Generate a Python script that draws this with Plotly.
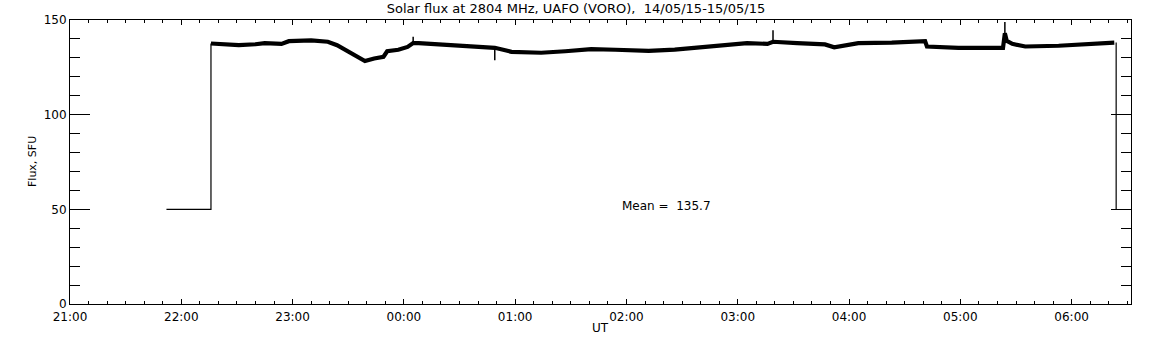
import plotly.graph_objects as go

# --- data ---
# main flux record (UT, SFU)
flux_time = ["22:16", "22:31", "22:40", "22:45", "22:54", "22:58", "23:10", "23:19",
             "23:24", "23:30", "23:35", "23:39", "23:44", "23:49", "23:51", "23:57",
             "00:02", "00:05", "00:08", "00:18", "00:29", "00:40", "00:49", "00:58",
             "01:14", "01:27", "01:41", "01:54", "02:12", "02:26", "02:40", "02:57",
             "03:05", "03:16", "03:19", "03:32", "03:47", "03:52", "04:05", "04:23",
             "04:41", "04:42", "04:59", "05:20", "05:23", "05:24", "05:25", "05:28",
             "05:35", "05:53", "06:11", "06:23"]
flux_value = [137.6, 136.7, 137.2, 137.8, 137.4, 138.8, 139.2, 138.5,
              136.7, 133.5, 130.4, 128.3, 129.7, 130.6, 133.5, 134.3,
              135.8, 137.8, 137.8, 137.2, 136.4, 135.7, 135.3, 133.2,
              132.7, 133.5, 134.6, 134.3, 133.7, 134.4, 135.7, 137.2,
              137.8, 137.4, 138.5, 137.8, 137.1, 135.6, 137.8, 138.1,
              138.8, 136.0, 135.3, 135.3, 135.3, 143.0, 139.0, 137.4,
              136.0, 136.4, 137.4, 138.1]

# short spikes (UT, base, peak)
spike_time = ["00:05", "00:49", "03:19", "05:24"]
spike_base = [137.8, 135.3, 138.5, 143.0]
spike_peak = [141.1, 128.8, 144.6, 149.0]

# start / end of the record where the receiver sat at 50 SFU
start_time = ["21:52", "22:16", "22:16"]
start_value = [50, 50, 137.6]
end_time = ["06:24", "06:24"]
end_value = [138.1, 50]

mean_flux = 135.7
title_text = "Solar flux at 2804 MHz, UAFO (VORO),  14/05/15-15/05/15"


def to_dt(hhmm):
    h = int(hhmm.split(":")[0])
    day = "2015-05-14" if h >= 12 else "2015-05-15"
    return f"{day} {hhmm}:00"


fig = go.Figure()

fig.add_trace(go.Scatter(
    x=[to_dt(t) for t in flux_time], y=flux_value, mode="lines",
    line=dict(color="black", width=4.2), hoverinfo="skip", showlegend=False))

sx, sy = [], []
for t, b, p in zip(spike_time, spike_base, spike_peak):
    sx += [to_dt(t), to_dt(t), None]
    sy += [b, p, None]
fig.add_trace(go.Scatter(x=sx, y=sy, mode="lines",
                         line=dict(color="black", width=1.5), showlegend=False))

fig.add_trace(go.Scatter(
    x=[to_dt(t) for t in start_time] + [None] + [to_dt(t) for t in end_time],
    y=start_value + [None] + end_value, mode="lines",
    line=dict(color="black", width=1.2), showlegend=False))

font = dict(family="DejaVu Sans", size=12, color="black")

fig.update_layout(
    width=1152, height=345,
    margin=dict(l=70, r=21, t=20, b=41),
    paper_bgcolor="white", plot_bgcolor="white",
    font=font,
    title=dict(text=title_text, x=0.5, xanchor="center", y=1 - 8.5 / 345,
               yanchor="middle",
               font=dict(family="DejaVu Sans", size=13, color="black")),
    xaxis=dict(
        type="date",
        range=["2015-05-14 21:00:00", "2015-05-15 06:32:00"],
        dtick=3600000, tick0="2015-05-14 21:00:00", tickformat="%H:%M",
        ticks="inside", ticklen=5, tickcolor="black", tickwidth=1,
        minor=dict(dtick=600000, ticks="inside", ticklen=3, tickcolor="black"),
        showline=True, linecolor="black", linewidth=1, mirror="ticks",
        showgrid=False, zeroline=False, tickfont=font, ticklabelstandoff=2,
    ),
    yaxis=dict(
        range=[0, 150], dtick=50, tick0=0,
        ticks="inside", ticklen=20, tickcolor="black", tickwidth=1,
        minor=dict(dtick=10, ticks="inside", ticklen=10, tickcolor="black"),
        showline=True, linecolor="black", linewidth=1, mirror="ticks",
        showgrid=False, zeroline=False, tickfont=font,
    ),
    annotations=[
        dict(text="Flux, SFU", xref="paper", yref="paper", x=0, y=0.5,
             xanchor="center", yanchor="middle", xshift=-38, textangle=-90,
             showarrow=False, font=dict(family="DejaVu Sans", size=11, color="black")),
        dict(text="UT", xref="paper", yref="paper", x=0.5, y=0,
             xanchor="center", yanchor="middle", yshift=-24,
             showarrow=False, font=font),
        dict(text=f"Mean =  {mean_flux}", xref="x", yref="y",
             x="2015-05-15 01:56:30", y=52, xanchor="left", yanchor="middle",
             showarrow=False, font=font),
    ],
)

fig.write_html("out.html", config={"displayModeBar": False},
               post_script="document.body.style.margin='0';document.body.style.overflow='hidden';")
